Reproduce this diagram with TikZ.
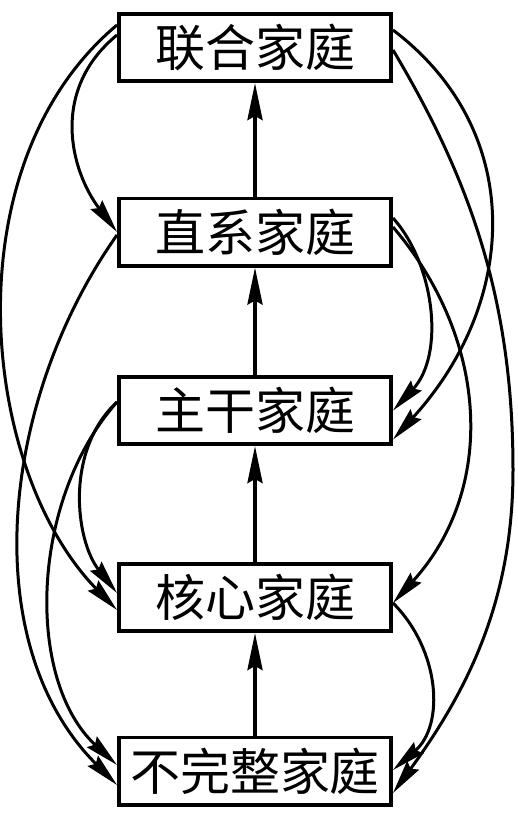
\documentclass[tikz,border=0pt]{standalone}
\usepackage{fontspec}
\newfontfamily\cjk{Noto Sans CJK SC}
\usetikzlibrary{arrows.meta}
\begin{document}
\begin{tikzpicture}[x=1pt,y=-1pt,
  famnode/.style={draw, line width=3.6pt, minimum width=272.4pt, minimum height=67.4pt, inner sep=0pt, font=\cjk\fontsize{50}{60}\selectfont},
  uparrow/.style={line width=3.8pt, -{Stealth[length=37pt,width=15pt,inset=4pt]}},
  curvearrow/.style={line width=3pt, -{Stealth[length=34pt,width=14.5pt,inset=4pt]}}]
\useasboundingbox (0,0) rectangle (518,815);
\node[famnode] (b1) at (255,47.5) {联合家庭};
\node[famnode] (b2) at (255,232) {直系家庭};
\node[famnode] (b3) at (255,410.5) {主干家庭};
\node[famnode] (b4) at (255,597.5) {核心家庭};
\node[famnode] (b5) at (255,771) {不完整家庭};
% vertical arrows
\draw[uparrow] (b2.north) -- (b1.south);
\draw[uparrow] (b3.north) -- (b2.south);
\draw[uparrow] (b4.north) -- (b3.south);
\draw[uparrow] (b5.north) -- (b4.south);
% left side
\draw[curvearrow] ([yshift=22.5pt]b1.west) .. controls (-50,165) and (-20,470) .. ([yshift=-12.5pt]b4.west);
\draw[curvearrow] ([yshift=12.5pt]b1.west) .. controls (50,90) and (70,170) .. (b2.west);
\draw[curvearrow] ([yshift=-3pt]b2.west) .. controls (1,399) and (-25,643) .. ([yshift=-14pt]b5.west);
\draw[curvearrow] ([yshift=8.5pt]b3.west) .. controls (65,450) and (75,540) .. ([yshift=4.5pt]b4.west);
\draw[curvearrow] ([yshift=8.5pt]b3.west) .. controls (30,500) and (25,680) .. ([yshift=6pt]b5.west);
% right side
\coordinate (gmid) at (513,470);
\draw[curvearrow] ([yshift=17.5pt]b1.east) .. controls (525,130) and (520,300) .. ([yshift=-29pt]b3.east);
\draw[curvearrow] ([yshift=-2.5pt]b1.east) .. controls (470,179) and (513,300) .. (gmid) .. controls (513,600) and (468,690) .. ([yshift=-22pt]b5.east);
\draw[curvearrow] ([yshift=14pt]b2.east) .. controls (435,265) and (445,355) .. (b3.east);
\draw[curvearrow] ([yshift=5pt]b2.east) .. controls (490,341) and (496,490) .. ([yshift=-5.5pt]b4.east);
\draw[curvearrow] ([yshift=-5.5pt]b4.east) .. controls (440,650) and (445,725) .. ([yshift=1pt]b5.east);
\end{tikzpicture}
\end{document}
